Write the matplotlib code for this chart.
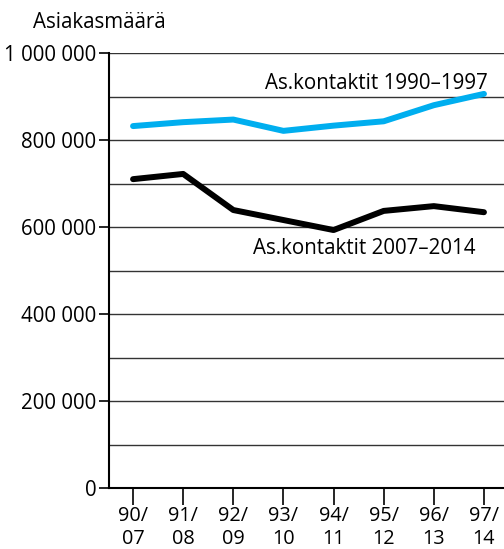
import matplotlib.pyplot as plt

# data
labels = ['90/\n07', '91/\n08', '92/\n09', '93/\n10', '94/\n11', '95/\n12', '96/\n13', '97/\n14']
kontaktit_1990_1997 = [832000, 841000, 847000, 821000, 833000, 843000, 880000, 906000]
kontaktit_2007_2014 = [710000, 722000, 639000, 616000, 593000, 637000, 648000, 634000]
yticks = [0, 200000, 400000, 600000, 800000, 1000000]

plt.rcParams['font.family'] = ['Open Sans', 'DejaVu Sans']
fs = 14.8

fig = plt.figure(figsize=(5.04, 5.49), dpi=100)
ax = fig.add_axes([109/504, 1-488/549, 1-109/504, (488-53)/549])

x = range(len(labels))
ax.plot(x, kontaktit_1990_1997, color='#00aeef', lw=4.3, solid_capstyle='round', zorder=3)
ax.plot(x, kontaktit_2007_2014, color='black', lw=4.3, solid_capstyle='round', zorder=3)

ax.set_xlim(-0.48, 7.4)
ax.set_ylim(0, 1000000)

# gridlines every 100 000
for v in range(100000, 1000001, 100000):
    ax.axhline(v, color='#333333', lw=1.0, zorder=1)

ax.set_yticks(yticks)
ax.set_yticklabels(['{:,}'.format(v).replace(',', ' ') for v in yticks], fontsize=fs)
ax.set_xticks(list(x))
ax.set_xticklabels(labels, fontsize=14.3, linespacing=1.22)
ax.tick_params(axis='x', length=12, width=1.2, pad=1)
ax.tick_params(axis='y', length=7, width=1.2, pad=2)

for s in ['top', 'right']:
    ax.spines[s].set_visible(False)
for s in ['left', 'bottom']:
    ax.spines[s].set_linewidth(1.5)

ax.text(7.08, 930000, 'As.kontaktit 1990–1997', fontsize=fs, ha='right', va='center')
ax.text(6.84, 550000, 'As.kontaktit 2007–2014', fontsize=fs, ha='right', va='center')

fig.text(33/504, 1-22/549, 'Asiakasmäärä', fontsize=fs, ha='left', va='center')

fig.savefig('out.png', dpi=100)
